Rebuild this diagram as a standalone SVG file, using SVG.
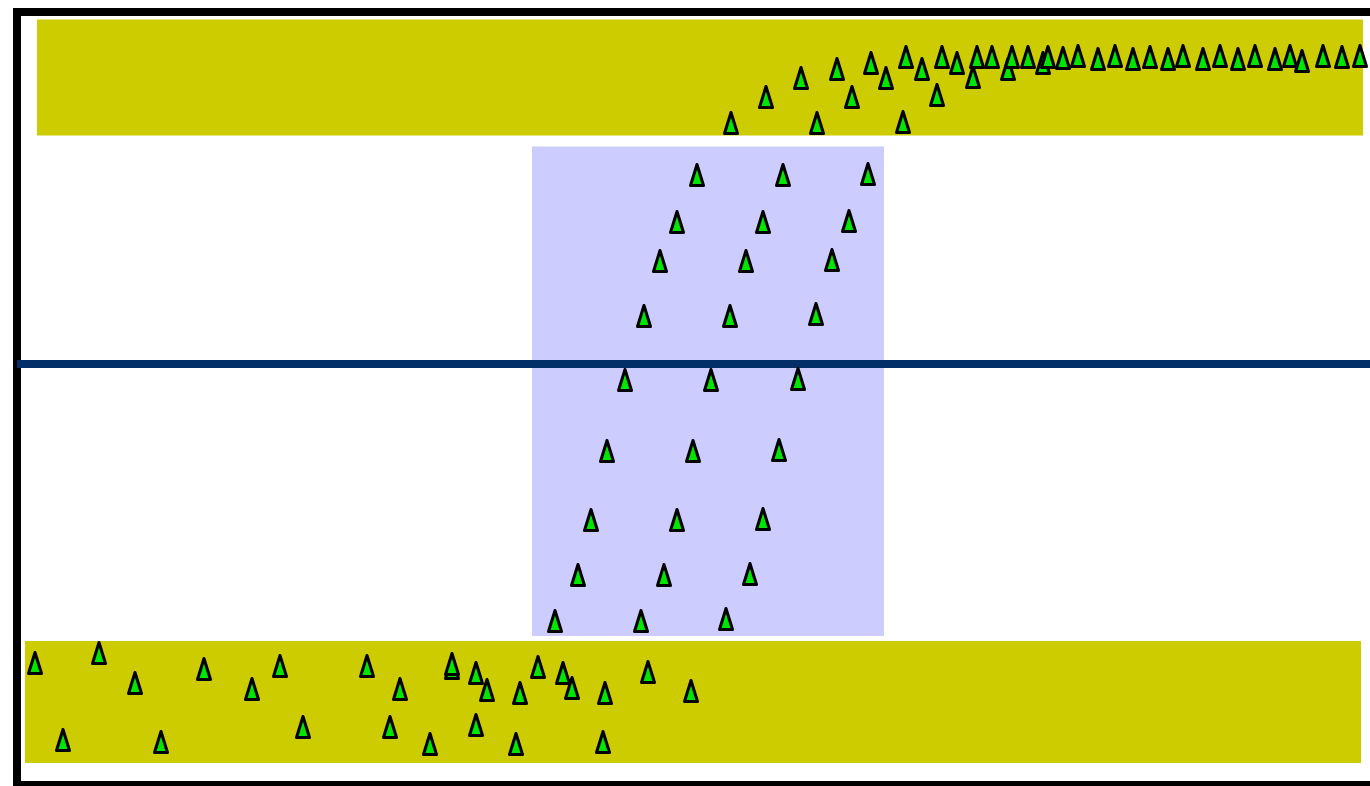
<svg xmlns="http://www.w3.org/2000/svg" xmlns:xlink="http://www.w3.org/1999/xlink" width="1370" height="786" viewBox="0 0 1370 786">
<defs>
<style>
.band{fill:#cccc00}
.zone{fill:#ccccff}
.tri{fill:#00e600;stroke:#000;stroke-width:3;stroke-linejoin:round}
</style>
<polygon id="t" class="tri" points="0,-10.5 -6.5,10.5 6.5,10.5"/>
</defs>
<rect x="0" y="0" width="1370" height="786" fill="#fff"/>
<g id="frame"><rect x="17" y="12" width="1400" height="773" fill="none" stroke="#000" stroke-width="8"/></g>
<g id="top-band"><rect class="band" x="37" y="19.5" width="1326" height="116"/></g>
<g id="bottom-band"><rect class="band" x="25" y="641" width="1336" height="122"/></g>
<g id="middle-zone"><rect class="zone" x="532" y="146.5" width="352" height="489.5"/></g>
<g id="connectors"><line x1="17" y1="364" x2="1370" y2="364" stroke="#032f68" stroke-width="8"/></g>
<g id="top-triangles">
<use href="#t" x="731" y="123"/><use href="#t" x="766" y="97"/><use href="#t" x="801" y="78"/><use href="#t" x="837" y="69"/>
<use href="#t" x="817" y="123"/><use href="#t" x="852" y="97"/><use href="#t" x="871" y="63"/><use href="#t" x="886" y="78"/>
<use href="#t" x="903" y="122"/><use href="#t" x="906" y="57"/><use href="#t" x="922" y="69"/><use href="#t" x="937" y="95"/>
<use href="#t" x="942" y="57"/><use href="#t" x="957" y="63"/><use href="#t" x="973" y="77"/><use href="#t" x="977" y="57"/>
<use href="#t" x="992" y="57"/><use href="#t" x="1008" y="69"/><use href="#t" x="1012" y="57"/><use href="#t" x="1028" y="57"/>
<use href="#t" x="1043" y="63"/><use href="#t" x="1048" y="57"/><use href="#t" x="1063" y="58"/><use href="#t" x="1078" y="56"/>
<use href="#t" x="1098" y="59"/><use href="#t" x="1115" y="56"/><use href="#t" x="1133" y="59"/><use href="#t" x="1150" y="57"/>
<use href="#t" x="1168" y="59"/><use href="#t" x="1183" y="56"/><use href="#t" x="1203" y="59"/><use href="#t" x="1220" y="56"/>
<use href="#t" x="1238" y="59"/><use href="#t" x="1255" y="56"/><use href="#t" x="1275" y="59"/><use href="#t" x="1290" y="56"/>
<use href="#t" x="1302" y="61"/><use href="#t" x="1323" y="56"/><use href="#t" x="1342" y="57"/><use href="#t" x="1360" y="56"/>
</g>
<g id="middle-triangles">
<use href="#t" x="697" y="175"/><use href="#t" x="783" y="175"/><use href="#t" x="868" y="174"/>
<use href="#t" x="677" y="222"/><use href="#t" x="763" y="222"/><use href="#t" x="849" y="221"/>
<use href="#t" x="660" y="261"/><use href="#t" x="746" y="261"/><use href="#t" x="832" y="260"/>
<use href="#t" x="644" y="316"/><use href="#t" x="730" y="316"/><use href="#t" x="816" y="314"/>
<use href="#t" x="625" y="380"/><use href="#t" x="711" y="380"/><use href="#t" x="798" y="379"/>
<use href="#t" x="607" y="451"/><use href="#t" x="693" y="451"/><use href="#t" x="779" y="450"/>
<use href="#t" x="591" y="520"/><use href="#t" x="677" y="520"/><use href="#t" x="763" y="519"/>
<use href="#t" x="578" y="575"/><use href="#t" x="664" y="575"/><use href="#t" x="750" y="574"/>
<use href="#t" x="555" y="621"/><use href="#t" x="641" y="621"/><use href="#t" x="726" y="619"/>
</g>
<g id="bottom-triangles">
<use href="#t" x="35" y="663"/><use href="#t" x="99" y="653"/><use href="#t" x="135" y="683"/><use href="#t" x="63" y="740"/>
<use href="#t" x="204" y="669"/><use href="#t" x="252" y="689"/><use href="#t" x="280" y="666"/><use href="#t" x="161" y="742"/>
<use href="#t" x="303" y="727"/><use href="#t" x="367" y="666"/><use href="#t" x="400" y="689"/><use href="#t" x="452" y="668"/>
<use href="#t" x="452" y="664"/><use href="#t" x="476" y="673"/><use href="#t" x="487" y="690"/><use href="#t" x="520" y="693"/>
<use href="#t" x="538" y="667"/><use href="#t" x="563" y="673"/><use href="#t" x="572" y="688"/><use href="#t" x="605" y="693"/>
<use href="#t" x="648" y="672"/><use href="#t" x="691" y="691"/><use href="#t" x="390" y="727"/><use href="#t" x="430" y="744"/>
<use href="#t" x="476" y="725"/><use href="#t" x="516" y="744"/><use href="#t" x="603" y="742"/>
</g>
</svg>
